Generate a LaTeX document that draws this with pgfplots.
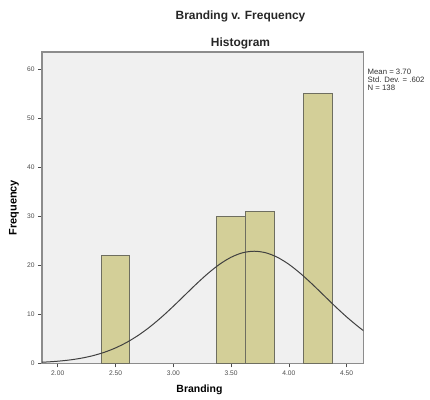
\documentclass[border=0pt]{standalone}
\usepackage{pgfplots}
\pgfplotsset{compat=1.18}
\usepackage{fontspec}
\setmainfont{Liberation Sans}
\definecolor{barfill}{HTML}{D3CF98}
\definecolor{baredge}{HTML}{6E6E60}
\definecolor{plotbg}{HTML}{F0F0F0}
\definecolor{framec}{HTML}{8C8C8C}
\begin{document}
\begin{tikzpicture}[x=1bp,y=1bp]
\path[use as bounding box] (0,0) rectangle (430,400);
\begin{axis}[
  at={(42bp,36.7bp)}, anchor=south west,
  scale only axis, width=321.3bp, height=311.3bp,
  xmin=1.864, xmax=4.644, ymin=0, ymax=63.5,
  axis background/.style={fill=plotbg},
  axis line style={framec, line width=1.2pt},
  xtick={2,2.5,3,3.5,4,4.5},
  xticklabels={2.00,2.50,3.00,3.50,4.00,4.50},
  ytick={0,10,20,30,40,50,60},
  tick align=outside, tick pos=left,
  major tick length=4bp,
  tick style={black!70, line width=0.6pt},
  tick label style={font=\fontsize{6.7}{7.5}\selectfont, text=black!70},
  /pgf/number format/assume math mode=true,
  ylabel={\textbf{Frequency}}, ylabel style={font=\fontsize{11}{12}\selectfont, at={(axis description cs:-0.087,0.5)}, anchor=center},
  xlabel={\textbf{Branding}}, xlabel style={font=\fontsize{10.5}{12}\selectfont, at={(axis description cs:0.49,-0.086)}, anchor=center},
  clip=true,
]
\addplot[ybar interval, fill=barfill, draw=baredge, line width=1pt] coordinates {
  (2.375,22) (2.625,0)
};
\addplot[ybar interval, fill=barfill, draw=baredge, line width=1pt] coordinates {
  (3.375,30) (3.625,31) (3.875,0)
};
\addplot[ybar interval, fill=barfill, draw=baredge, line width=1pt] coordinates {
  (4.125,55) (4.375,0)
};
\addplot[smooth, black!75, line width=1pt] coordinates {
  (1.85,0.203) (1.9,0.262) (2.0,0.424) (2.1,0.669) (2.2,1.026) (2.3,1.530)
  (2.4,2.220) (2.5,3.135) (2.6,4.308) (2.7,5.752) (2.8,7.477) (2.9,9.454)
  (3.0,11.627) (3.1,13.912) (3.2,16.192) (3.3,18.331) (3.4,20.191) (3.5,21.633)
  (3.6,22.547) (3.7,22.86) (3.8,22.547) (3.9,21.633) (4.0,20.191) (4.1,18.331)
  (4.2,16.192) (4.3,13.912) (4.4,11.627) (4.5,9.454) (4.6,7.477) (4.65,6.581)
};
\end{axis}
\node[font=\fontsize{12}{13}\selectfont\bfseries, text=black!85] at (240.5,384) {Branding v. Frequency};
\node[font=\fontsize{12}{13}\selectfont\bfseries, text=black!85] at (240.5,357) {Histogram};
\node[font=\fontsize{7.8}{7.8}\selectfont, anchor=north west, align=left, inner sep=0pt, text=black!80] at (367.5,331) {Mean = 3.70\\Std. Dev. = .602\\N = 138};
\end{tikzpicture}
\end{document}
